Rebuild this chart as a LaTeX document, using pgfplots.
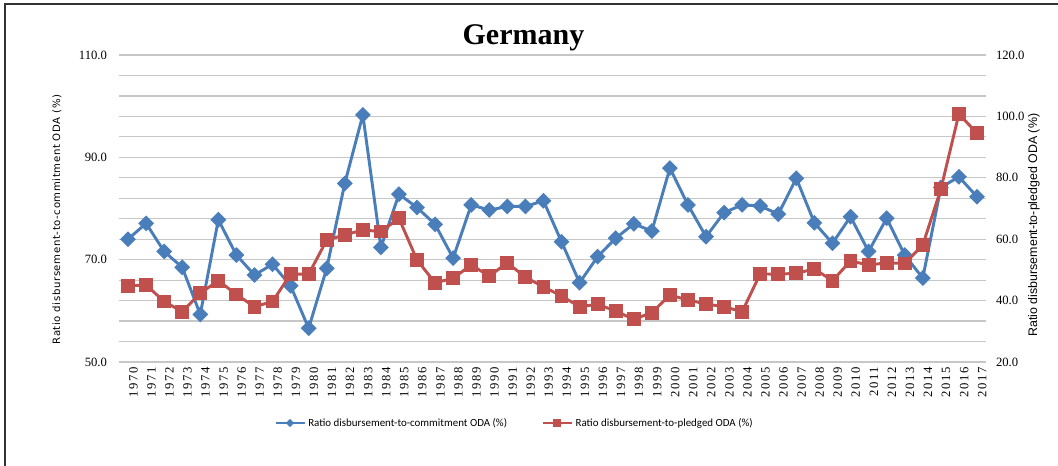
\documentclass[border=0pt]{standalone}
\usepackage{fontspec}
\usepackage{pgfplots}
\pgfplotsset{compat=1.18}
\setmainfont{Liberation Serif}
\newfontfamily\legfont{Carlito}
\newfontfamily\labfont[LetterSpace=6]{DejaVu Sans}
\newfontfamily\rlabfont{Liberation Sans}
\newfontfamily\xtfont[LetterSpace=14]{Liberation Serif}
\definecolor{cblue}{HTML}{4A7EBB}
\definecolor{cred}{HTML}{C0504D}
\pgfplotstableread{
year a b
1970 74.0 44.8
1971 77.1 45.1
1972 71.6 39.7
1973 68.5 36.4
1974 59.3 42.4
1975 77.8 46.5
1976 70.9 42.0
1977 67.0 38.0
1978 69.1 39.7
1979 64.9 48.6
1980 56.6 48.6
1981 68.3 59.7
1982 84.9 61.4
1983 98.3 63.0
1984 72.4 62.5
1985 82.8 66.8
1986 80.2 53.2
1987 76.9 45.8
1988 70.3 47.3
1989 80.7 51.6
1990 79.7 48.0
1991 80.4 52.3
1992 80.4 47.6
1993 81.5 44.5
1994 73.5 41.5
1995 65.5 38.0
1996 70.6 38.8
1997 74.2 36.6
1998 77.0 33.9
1999 75.6 36.1
2000 87.9 41.8
2001 80.7 40.2
2002 74.5 38.9
2003 79.2 38.0
2004 80.7 36.4
2005 80.5 48.7
2006 78.9 48.6
2007 85.9 48.9
2008 77.2 50.3
2009 73.2 46.5
2010 78.4 52.9
2011 71.6 51.6
2012 78.1 52.3
2013 70.9 52.1
2014 66.4 58.1
2015 84.1 76.3
2016 86.2 100.8
2017 82.3 94.5
}\datatable
\begin{document}
\begin{tikzpicture}
\path[use as bounding box] (0,0) rectangle (793.5pt,348.75pt);
\draw[black!80, line width=1.2pt] (3.75pt,-2pt) -- (3.75pt,345.75pt) -- (800pt,345.75pt);
\node[anchor=base, font=\bfseries\fontsize{22.5}{27}\selectfont, inner sep=0pt] at (392.6pt,315pt) {Germany};
\begin{axis}[
  at={(89.25pt,77.25pt)}, anchor=south west,
  width=650.25pt, height=230.25pt, scale only axis,
  xmin=1969.5, xmax=2017.5, ymin=50, ymax=110,
  xtick={1970,...,2017},
  ytick={50,70,90,110},
  minor ytick={54,58,...,106},
  ymajorgrids, yminorgrids,
  grid style={black!22, line width=0.9pt},
  minor grid style={black!22, line width=0.9pt},
  major tick length=0pt, minor tick length=0pt,
  axis line style={draw=none},
  /pgf/number format/assume math mode=true,
  x tick label style={/pgf/number format/1000 sep={}, rotate=90, anchor=east, yshift=-4pt, font=\xtfont\fontsize{9.5}{11}\selectfont},
  y tick label style={/pgf/number format/.cd, fixed, fixed zerofill, precision=1, /tikz/.cd, xshift=-5.5pt, font=\fontsize{9.5}{11}\selectfont},
  ylabel={Ratio disbursement-to-commitment ODA (\%)},
  ylabel style={at={(rel axis cs:-0.0715,0.464)}, anchor=center, rotate=0, font=\labfont\fontsize{7.6}{9}\selectfont},
  clip=false,
]
\addplot[cblue, line width=2.2pt, mark=square*, mark size=3.1pt, mark options={rotate=45, solid}] table[x=year, y=a] {\datatable};
\end{axis}
\begin{axis}[
  at={(89.25pt,77.25pt)}, anchor=south west,
  width=650.25pt, height=230.25pt, scale only axis,
  xmin=1969.5, xmax=2017.5, ymin=20, ymax=120,
  hide x axis,
  axis y line*=right,
  ytick={20,40,...,120},
  major tick length=0pt,
  axis line style={draw=none},
  /pgf/number format/assume math mode=true,
  y tick label style={/pgf/number format/.cd, fixed, fixed zerofill, precision=1, /tikz/.cd, xshift=4pt, font=\fontsize{9.5}{11}\selectfont},
  ylabel={Ratio disbursement-to-pledged ODA (\%)},
  ylabel style={at={(rel axis cs:1.0554,0.446)}, anchor=center, rotate=0, font=\rlabfont\fontsize{9.3}{11}\selectfont},
  clip=false,
  legend style={at={(rel axis cs:0.4567,-0.1987)}, anchor=center, draw=none, fill=none, legend columns=2, font=\legfont\fontsize{8.2}{10}\selectfont, inner sep=0pt},
  legend cell align=left,
  /tikz/every even column/.append style={column sep=24pt},
  legend image code/.code={\draw[#1] plot coordinates {(0pt,0pt)(10.875pt,0pt)(21.75pt,0pt)};},
]
\addlegendimage{cblue, line width=1.6pt, mark=square*, mark size=1.4pt, mark repeat=2, mark phase=2, mark options={rotate=45, solid}}
\addlegendentry{Ratio disbursement-to-commitment ODA (\%)}
\addlegendimage{cred, line width=1.6pt, mark=square*, mark size=2.2pt, mark repeat=2, mark phase=2, mark options={solid}}
\addlegendentry{Ratio disbursement-to-pledged ODA (\%)}
\addplot[cred, line width=2.2pt, mark=square*, mark size=4.1pt, mark options={solid}, forget plot] table[x=year, y=b] {\datatable};
\end{axis}
\end{tikzpicture}
\end{document}
